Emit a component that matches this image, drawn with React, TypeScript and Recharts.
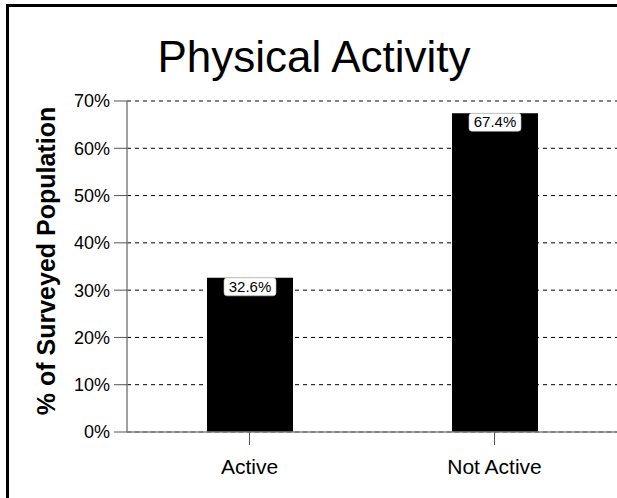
import React from 'react';
import { BarChart, Bar, XAxis, YAxis, CartesianGrid, LabelList } from 'recharts';

const categories = ['Active', 'Not Active'];
const values = [32.6, 67.4];
const yTicks = [0, 10, 20, 30, 40, 50, 60, 70];
const title = 'Physical Activity';
const yTitle = '% of Surveyed Population';

const data = categories.map((c, i) => ({ name: c, value: values[i] }));
const FONT = '"Liberation Sans", Arial, Helvetica, sans-serif';

const BarLabel = (props: any) => {
  const { x, y, width, value } = props;
  const cx = Number(x) + Number(width) / 2;
  const top = Number(y);
  const w = 52;
  const h = 18;
  return (
    <g>
      <rect x={cx - w / 2} y={top} width={w} height={h} rx={3} ry={3} fill="#fff" stroke="#bbb" strokeWidth={0.6} />
      <text x={cx} y={top + h / 2 + 5} textAnchor="middle" fontSize={15} fontFamily={FONT} fill="#000">
        {`${Number(value).toFixed(1)}%`}
      </text>
    </g>
  );
};

const YLabel = () => (
  <text
    x={46}
    y={261}
    transform="rotate(-90 46 261)"
    textAnchor="middle"
    dominantBaseline="central"
    fontSize={25}
    fontWeight="bold"
    fontFamily={FONT}
    fill="#000"
  >
    {yTitle}
  </text>
);

export default function App() {
  return (
    <div style={{ position: 'absolute', left: 0, top: 0, width: 617, height: 498, overflow: 'hidden', background: '#fff' }}>
      <div
        style={{
          position: 'absolute',
          left: 6,
          top: 4,
          width: 700,
          height: 600,
          borderLeft: '3px solid #000',
          borderTop: '3px solid #000',
          boxSizing: 'border-box',
        }}
      />
      <svg style={{ position: 'absolute', left: 0, top: 0 }} width={617} height={100}>
        <text
          x={314}
          y={72}
          textAnchor="middle"
          fontSize={44}
          fontFamily={FONT}
          fill="#000"
          textLength={313}
          lengthAdjust="spacingAndGlyphs"
        >
          {title}
        </text>
      </svg>
      <div style={{ position: 'absolute', left: 0, top: 0 }}>
        <BarChart width={617} height={498} data={data} margin={{ top: 101, right: 0, bottom: 0, left: 0 }}>
          <CartesianGrid horizontal vertical={false} stroke="#000" strokeDasharray="4 4" />
          <XAxis
            dataKey="name"
            height={66}
            tickSize={13}
            tickMargin={14}
            axisLine={{ stroke: '#808080', strokeWidth: 1.5 }}
            tickLine={{ stroke: '#555' }}
            tick={{ fill: '#000', fontSize: 21, fontFamily: FONT }}
          />
          <YAxis
            width={127}
            domain={[0, 70]}
            ticks={yTicks}
            interval={0}
            tickFormatter={(v: number) => `${v}%`}
            tickSize={13}
            tickMargin={4}
            axisLine={{ stroke: '#808080', strokeWidth: 1.5 }}
            tickLine={{ stroke: '#555' }}
            tick={{ fill: '#000', fontSize: 18, fontFamily: FONT }}
            label={<YLabel />}
          />
          <Bar dataKey="value" fill="#000" barSize={86} isAnimationActive={false}>
            <LabelList dataKey="value" content={<BarLabel />} />
          </Bar>
        </BarChart>
      </div>
    </div>
  );
}
